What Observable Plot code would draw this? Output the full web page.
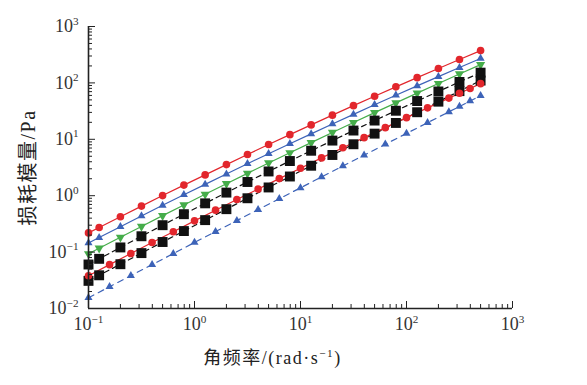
<!DOCTYPE html>
<html><head><meta charset="utf-8">
<script src="https://cdn.jsdelivr.net/npm/d3@7"></script>
<script src="https://cdn.jsdelivr.net/npm/@observablehq/plot@0.6"></script>
<style>html,body{margin:0;padding:0;background:#fff}svg{display:block}</style>
</head><body><div id="chart"></div><script>
// Angular frequency points (rad/s)
const freqA = [0.1, 0.126, 0.2, 0.316, 0.5, 0.794, 1.26, 2, 3.16, 5, 7.94, 12.6, 20, 31.6, 50, 79.4, 126, 200, 316, 500];
const freqB = [0.1, 0.158, 0.251, 0.398, 0.631, 1, 1.58, 2.51, 3.98, 6.31, 10, 15.8, 25.1, 39.8, 63.1, 100, 158, 251, 316, 398, 500];

// Loss modulus (Pa) per series
const redTop     = [0.219, 0.273, 0.424, 0.654, 1.005, 1.54, 2.34, 3.56, 5.37, 8.08, 12.1, 18.0, 26.8, 39.5, 58.1, 85.1, 124, 180, 260, 374];
const blueSolid  = [0.145, 0.181, 0.282, 0.437, 0.675, 1.04, 1.59, 2.42, 3.68, 5.56, 8.36, 12.5, 18.7, 27.7, 41.0, 60.4, 88.4, 129, 187, 271];
const greenDown  = [0.0933, 0.117, 0.183, 0.285, 0.443, 0.686, 1.06, 1.63, 2.49, 3.80, 5.77, 8.74, 13.2, 19.8, 29.7, 44.2, 65.8, 97.4, 144, 211];
const blackUpper = [0.0603, 0.0760, 0.121, 0.191, 0.300, 0.470, 0.732, 1.135, 1.75, 2.69, 4.12, 6.27, 9.49, 14.3, 21.5, 32.1, 47.7, 70.5, 104, 152];
const blackLower = [0.0309, 0.0388, 0.0610, 0.0960, 0.151, 0.236, 0.369, 0.577, 0.901, 1.40, 2.19, 3.40, 5.27, 8.17, 12.6, 19.5, 30.2, 46.5, 71.5, 110];
const redLower   = [0.0380, 0.0599, 0.0942, 0.148, 0.230, 0.358, 0.554, 0.855, 1.31, 2.01, 3.07, 4.68, 7.09, 10.7, 16.1, 24.2, 36.1, 53.8, 65.5, 79.8, 97.0];
const blueDashed = [0.0155, 0.0243, 0.0382, 0.0600, 0.0941, 0.148, 0.231, 0.362, 0.566, 0.884, 1.38, 2.15, 3.36, 5.24, 8.16, 12.7, 19.7, 30.7, 38.2, 47.7, 59.4];

// Tick values and labels
const xTickValues = [0.1, 1, 10, 100, 1000];
const xTickLabels = ["10^−1", "10^0", "10^1", "10^2", "10^3"];
const yTickValues = [0.01, 0.1, 1, 10, 100, 1000];
const yTickLabels = ["10^−2", "10^−1", "10^0", "10^1", "10^2", "10^3"];
const xLabel = ["角频率/(rad·s^−1)"];
const yLabel = ["损耗模量/Pa"];

function minorTicks(lo, hi) {
  const out = [];
  for (let e = lo; e < hi; e++) for (let m = 2; m <= 9; m++) out.push(m * Math.pow(10, e));
  return out;
}

const RED = "#e2262c", BLUE = "#3d63b8", GREEN = "#45ad4a", BLACK = "#111111";
const lineDefs = [
  {name: "redTop", f: freqA, v: redTop, color: RED, dash: null},
  {name: "blueSolid", f: freqA, v: blueSolid, color: BLUE, dash: null},
  {name: "greenDown", f: freqA, v: greenDown, color: GREEN, dash: null},
  {name: "blackUpper", f: freqA, v: blackUpper, color: BLACK, dash: "5,4"},
  {name: "blackLower", f: freqA, v: blackLower, color: BLACK, dash: "5,4"},
  {name: "redLower", f: freqB, v: redLower, color: RED, dash: null},
  {name: "blueDashed", f: freqB, v: blueDashed, color: BLUE, dash: "6,5"}
];
const dotDefs = [
  {name: "redTop", symbol: "circle", r: 3.8, rotate: 0},
  {name: "blueSolid", symbol: "triangle", r: 3.0, rotate: 0},
  {name: "greenDown", symbol: "triangle", r: 3.4, rotate: 180},
  {name: "blackUpper", symbol: "square", r: 5.6, rotate: 0},
  {name: "blackLower", symbol: "square", r: 5.6, rotate: 0},
  {name: "redLower", symbol: "circle", r: 3.8, rotate: 0},
  {name: "blueDashed", symbol: "triangle", r: 3.0, rotate: 0}
];
const rowsOf = d => d.f.map((f, i) => ({f, v: d.v[i], name: d.name}));
const defByName = Object.fromEntries(lineDefs.map(d => [d.name, d]));

const marks = [];
for (const d of lineDefs) {
  marks.push(Plot.line(rowsOf(d), {x: "f", y: "v", stroke: d.color, strokeWidth: 1.2, strokeDasharray: d.dash || undefined}));
}
for (const s of dotDefs) {
  const d = defByName[s.name];
  marks.push(Plot.dot(rowsOf(d), {x: "f", y: "v", symbol: s.symbol, r: s.r, fill: d.color, stroke: "none", rotate: s.rotate}));
}
// axis frame lines
marks.push(Plot.ruleX([0.1], {y1: 0.01, y2: 1000, stroke: "#222", strokeWidth: 1.6}));
marks.push(Plot.ruleY([0.01], {x1: 0.1, x2: 1000, stroke: "#222", strokeWidth: 1.6}));
// ticks (inward)
marks.push(Plot.axisX(xTickValues, {tickSize: -7, text: null, label: null, stroke: "#222"}));
marks.push(Plot.axisX(minorTicks(-1, 3), {tickSize: -4, text: null, label: null, stroke: "#222"}));
marks.push(Plot.axisY(yTickValues, {tickSize: -7, text: null, label: null, stroke: "#222"}));
marks.push(Plot.axisY(minorTicks(-2, 3), {tickSize: -4, text: null, label: null, stroke: "#222"}));
// tick labels
marks.push(Plot.axisX(xTickValues, {tickSize: 0, tickPadding: 9, tickFormat: d => xTickLabels[xTickValues.indexOf(d)], label: null, fontSize: 18}));
marks.push(Plot.axisY(yTickValues, {tickSize: 0, tickPadding: 10, tickFormat: d => yTickLabels[yTickValues.indexOf(d)], label: null, fontSize: 18}));
// axis titles
marks.push(Plot.text(xLabel, {frameAnchor: "bottom", lineAnchor: "middle", dy: 50, dx: -28, text: d => d, fontSize: 18, fill: "#222", textAnchor: "middle"}));
marks.push(Plot.text(yLabel, {frameAnchor: "left", lineAnchor: "middle", dx: -60, rotate: -90, text: d => d, fontSize: 20, fill: "#222", textAnchor: "middle"}));

const chart = Plot.plot({
  width: 587, height: 385,
  marginLeft: 88, marginRight: 75, marginTop: 26, marginBottom: 77,
  x: {type: "log", domain: [0.1, 1000]},
  y: {type: "log", domain: [0.01, 1000]},
  style: {fontFamily: "'Liberation Serif', 'Noto Sans CJK SC', serif", fontSize: "18px", color: "#333", background: "#fff"},
  marks
});

// superscripts: "a^b" -> a<tspan raised>b</tspan>
function supify(el) {
  const s = el.textContent;
  if (!s || s.indexOf("^") < 0) return;
  const fs = parseFloat(getComputedStyle(el).fontSize) || 18;
  const parts = s.split(/\^([−\-]?\d+)/);
  el.textContent = "";
  const ns = "http://www.w3.org/2000/svg";
  let raised = false;
  parts.forEach((p, i) => {
    if (i % 2 === 0 && p === "") return;
    const t = document.createElementNS(ns, "tspan");
    if (i % 2 === 1) {
      t.setAttribute("dy", (-0.42 * fs).toFixed(1));
      t.setAttribute("font-size", (0.62 * fs).toFixed(1));
      raised = true;
    } else if (raised) {
      t.setAttribute("dy", (0.42 * fs).toFixed(1));
      raised = false;
    }
    t.textContent = p;
    el.appendChild(t);
  });
}
document.getElementById("chart").appendChild(chart);
chart.querySelectorAll("text").forEach(supify);
// typographic spacing for the axis titles
chart.querySelectorAll("text").forEach(el => {
  if (el.textContent.indexOf("角频率") === 0 || el.textContent.indexOf("损耗模量") === 0) el.setAttribute("letter-spacing", "1.5");
});
</script></body></html>
